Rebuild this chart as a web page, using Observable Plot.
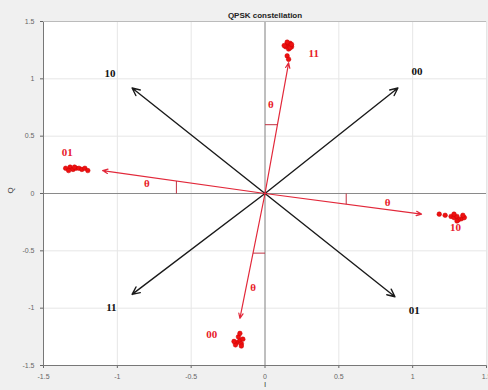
<!DOCTYPE html>
<html>
<head>
<meta charset="utf-8">
<script src="https://cdn.jsdelivr.net/npm/d3@7"></script>
<script src="https://cdn.jsdelivr.net/npm/@observablehq/plot@0.6"></script>
<style>
  html, body { margin: 0; padding: 0; background: #f0f0f0; }
  #chart svg { display: block; }
</style>
</head>
<body>
<div id="chart"></div>
<script>
// Tick values
const xTicks = [-1.5, -1, -0.5, 0, 0.5, 1, 1.5];
const yTicks = [-1.5, -1, -0.5, 0, 0.5, 1, 1.5];

// Ideal constellation (black arrows)
const idealLabels = ["00", "10", "11", "01"];
const idealX = [0.9, -0.9, -0.9, 0.88];
const idealY = [0.92, 0.92, -0.88, -0.9];
const idealLabelX = [1.03, -1.05, -1.04, 1.01];
const idealLabelY = [1.06, 1.05, -0.99, -1.02];

// Rotated constellation (red arrows)
const rotLabels = ["11", "01", "10", "00"];
const rotX = [0.16, -1.1, 1.06, -0.17];
const rotY = [1.14, 0.2, -0.18, -1.09];
const rotLabelX = [0.33, -1.34, 1.29, -0.36];
const rotLabelY = [1.22, 0.36, -0.3, -1.23];

// Received symbol clusters
const clusterX = [
  0.15, 0.17, 0.14, 0.18, 0.16, 0.15, 0.17, 0.13, 0.18, 0.15, 0.16,
  -1.35, -1.32, -1.3, -1.28, -1.26, -1.24, -1.22, -1.2, -1.33, -1.29,
  1.22, 1.26, 1.28, 1.3, 1.33, 1.35, 1.28, 1.31, 1.18, 1.34, 1.3,
  -0.19, -0.17, -0.16, -0.2, -0.18, -0.15, -0.17, -0.21, -0.16
];
const clusterY = [
  1.3, 1.31, 1.28, 1.28, 1.26, 1.32, 1.27, 1.29, 1.3, 1.2, 1.17,
  0.22, 0.23, 0.21, 0.22, 0.22, 0.21, 0.22, 0.2, 0.2, 0.23,
  -0.19, -0.2, -0.21, -0.2, -0.22, -0.21, -0.18, -0.23, -0.18, -0.19, -0.24,
  -1.3, -1.28, -1.31, -1.32, -1.25, -1.27, -1.22, -1.29, -1.33
];

// Angle markers and theta labels
const arcX1 = [0, -0.6, 0.55, 0];
const arcY1 = [0.6, 0, 0, -0.52];
const arcX2 = [0.084, -0.6, 0.55, -0.081];
const arcY2 = [0.6, 0.109, -0.094, -0.52];
const thetaX = [0.04, -0.8, 0.83, -0.08];
const thetaY = [0.78, 0.09, -0.08, -0.82];

const ideal = idealLabels.map((l, i) => ({l, x: idealX[i], y: idealY[i], lx: idealLabelX[i], ly: idealLabelY[i]}));
const rot = rotLabels.map((l, i) => ({l, x: rotX[i], y: rotY[i], lx: rotLabelX[i], ly: rotLabelY[i]}));
const cluster = clusterX.map((x, i) => ({x, y: clusterY[i]}));
const arcs = arcX1.map((x1, i) => ({x1, y1: arcY1[i], x2: arcX2[i], y2: arcY2[i]}));
const thetas = thetaX.map((x, i) => ({x, y: thetaY[i]}));

const serif = "'Liberation Serif', 'DejaVu Serif', serif";

const chart = Plot.plot({
  width: 488,
  height: 390,
  marginLeft: 43,
  marginRight: 2,
  marginTop: 21,
  marginBottom: 25,
  style: {background: "transparent", fontFamily: "'Liberation Sans', Arial, sans-serif", fontSize: "7px", color: "#666"},
  x: {domain: [-1.5, 1.5], ticks: xTicks, tickSize: 3, label: null, tickFormat: d => String(d)},
  y: {domain: [-1.5, 1.5], ticks: yTicks, tickSize: 3, label: null, tickFormat: d => String(d)},
  marks: [
    Plot.frame({fill: "white", stroke: null}),
    Plot.gridX(xTicks, {stroke: "#e6e6e6", strokeOpacity: 1}),
    Plot.gridY(yTicks, {stroke: "#e6e6e6", strokeOpacity: 1}),
    Plot.ruleX([0], {stroke: "#8a8a8a", strokeWidth: 1}),
    Plot.ruleY([0], {stroke: "#8a8a8a", strokeWidth: 1}),
    Plot.ruleX([-1.5], {stroke: "#777"}),
    Plot.ruleY([-1.5], {stroke: "#777"}),
    Plot.ruleY([1.5], {stroke: "#bbb"}),
    // black ideal arrows
    Plot.arrow(ideal, {x1: 0, y1: 0, x2: "x", y2: "y", stroke: "#1a1a1a", strokeWidth: 1.4, headLength: 9, headAngle: 50}),
    Plot.text(ideal, {x: "lx", y: "ly", text: "l", fill: "#111", fontFamily: serif, fontWeight: "bold", fontSize: 11}),
    // red rotated arrows
    Plot.arrow(rot, {x1: 0, y1: 0, x2: "x", y2: "y", stroke: "#e2283a", strokeWidth: 1.2, headLength: 7, headAngle: 45}),
    Plot.dot(cluster, {x: "x", y: "y", r: 2.3, fill: "#ee1111", stroke: "#cc0000", strokeWidth: 0.5}),
    Plot.text(rot, {x: "lx", y: "ly", text: "l", fill: "#e8202a", fontFamily: serif, fontWeight: "bold", fontSize: 11}),
    Plot.link(arcs, {x1: "x1", y1: "y1", x2: "x2", y2: "y2", stroke: "#c03040", strokeWidth: 1}),
    Plot.text(thetas, {x: "x", y: "y", text: () => "θ", fill: "#e8202a", fontFamily: serif, fontWeight: "bold", fontSize: 11}),
    // title and axis labels
    Plot.text(["QPSK constellation"], {frameAnchor: "top", dy: -9, fontSize: 8, fontWeight: "bold", fill: "#222"}),
    Plot.text(["I"], {frameAnchor: "bottom", dy: 21, fontSize: 8, fill: "#444"}),
    Plot.text(["Q"], {frameAnchor: "left", dx: -33, fontSize: 8, fill: "#444", rotate: -90})
  ]
});
document.getElementById("chart").appendChild(chart);
</script>
</body>
</html>
